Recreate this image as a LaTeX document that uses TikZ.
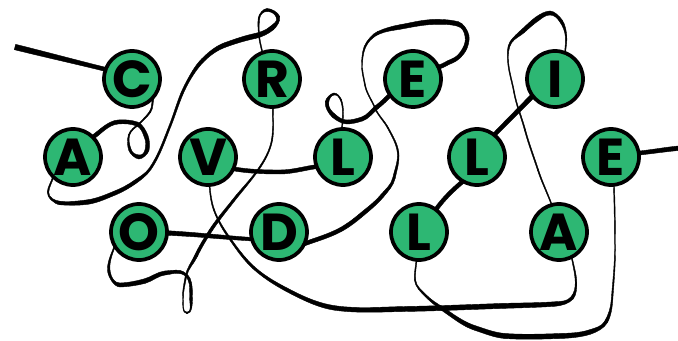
\documentclass[tikz,border=0pt]{standalone}
\usepackage{fontspec}
\setmainfont{Poppins}
\usetikzlibrary{backgrounds}
\definecolor{lettergreen}{RGB}{45,183,115}
\makeatletter
\newcommand\getpt[3]{%
  \expandafter\tikz@scan@one@point\expandafter\pgfutil@firstofone#1\relax
  \edef#2{\pgf@sys@tonumber\pgf@x}%
  \edef#3{\pgf@sys@tonumber\pgf@y}}
\makeatother
% one ribbon piece: start point, start heading, start width, end point, end heading, end width
\newcommand\ribseg[6]{%
  \getpt{#1}\rxa\rya
  \getpt{#4}\rxb\ryb
  \pgfmathsetmacro\rdd{veclen(\rxb-\rxa,\ryb-\rya)/3}%
  \pgfmathsetmacro\rta{-(#2)}%
  \pgfmathsetmacro\rtb{-(#5)}%
  \pgfmathsetmacro\rha{0.375*(#3)}%
  \pgfmathsetmacro\rhb{0.375*(#6)}%
  \pgfmathsetmacro\rcax{\rxa+\rdd*cos(\rta)}%
  \pgfmathsetmacro\rcay{\rya+\rdd*sin(\rta)}%
  \pgfmathsetmacro\rcbx{\rxb-\rdd*cos(\rtb)}%
  \pgfmathsetmacro\rcby{\ryb-\rdd*sin(\rtb)}%
  \pgfmathsetmacro\rnax{-\rha*sin(\rta)}%
  \pgfmathsetmacro\rnay{\rha*cos(\rta)}%
  \pgfmathsetmacro\rnbx{-\rhb*sin(\rtb)}%
  \pgfmathsetmacro\rnby{\rhb*cos(\rtb)}%
  \pgfmathsetmacro\Pax{\rxa+\rnax}\pgfmathsetmacro\Pay{\rya+\rnay}%
  \pgfmathsetmacro\Qax{\rxa-\rnax}\pgfmathsetmacro\Qay{\rya-\rnay}%
  \pgfmathsetmacro\Cax{\rcax+\rnax}\pgfmathsetmacro\Cay{\rcay+\rnay}%
  \pgfmathsetmacro\Dax{\rcax-\rnax}\pgfmathsetmacro\Day{\rcay-\rnay}%
  \pgfmathsetmacro\Cbx{\rcbx+\rnbx}\pgfmathsetmacro\Cby{\rcby+\rnby}%
  \pgfmathsetmacro\Dbx{\rcbx-\rnbx}\pgfmathsetmacro\Dby{\rcby-\rnby}%
  \pgfmathsetmacro\Pbx{\rxb+\rnbx}\pgfmathsetmacro\Pby{\ryb+\rnby}%
  \pgfmathsetmacro\Qbx{\rxb-\rnbx}\pgfmathsetmacro\Qby{\ryb-\rnby}%
  \filldraw[ribbonsty] (\Pax pt,\Pay pt) .. controls (\Cax pt,\Cay pt) and (\Cbx pt,\Cby pt) .. (\Pbx pt,\Pby pt)
    -- (\Qbx pt,\Qby pt) .. controls (\Dbx pt,\Dby pt) and (\Dax pt,\Day pt) .. (\Qax pt,\Qay pt) -- cycle;}
\newcommand\ribbon[1]{%
  \foreach \p/\a/\w [count=\i, remember=\p as \pp, remember=\a as \pa, remember=\w as \pw] in {#1}{%
    \ifnum\i>1 \ribseg{\pp}{\pa}{\pw}{\p}{\a}{\w}\fi}}
\tikzset{
  letter/.style={circle, draw=black, line width=2.8pt, fill=lettergreen,
    minimum size=42pt, inner sep=0pt, outer sep=0pt,
    font=\fontsize{39}{39}\selectfont\bfseries},
  ribbonsty/.style={fill=black, draw=black, line width=0.3pt, line join=round}
}
\begin{document}
\begin{tikzpicture}[x=0.75pt,y=-0.75pt]
\path[use as bounding box] (0,0) rectangle (678,341);
% letters
\node[letter] (C)  at (132,79)  {C};
\node[letter] (R)  at (272,79)  {R};
\node[letter] (E1) at (413,79)  {E};
\node[letter] (I)  at (555,79)  {I};
\node[letter] (A1) at (73,157)  {A};
\node[letter] (V)  at (208,157) {V};
\node[letter] (L1) at (343,157) {L};
\node[letter] (L2) at (477,157) {L};
\node[letter] (E2) at (611,157) {E};
\node[letter] (O)  at (139,232) {O};
\node[letter] (D)  at (279,232) {D};
\node[letter] (L3) at (419,232) {L};
\node[letter] (A2) at (559,232) {A};
\coordinate (west) at (15,47);
\coordinate (east) at (681,148);
\begin{pgfonlayer}{background}
\fill[white] (0,0) rectangle (678,341);
% edge -> C
\ribbon{{(west)}/14/5.5, {(C.160)}/14/4}
% C -> A
\ribbon{{(C.-40)}/106/1.5, {(150,112)}/125/1.5, {(140,123)}/135/1.3, {(129,135)}/105/1.3,
  {(130,150)}/70/2.5, {(139,157)}/5/4, {(147,150)}/-75/4, {(146,136)}/-112/4,
  {(137,124)}/-160/4, {(118,122)}/175/4, {(A1.45)}/145/4}
% A -> R
\ribbon{{(A1.225)}/105/1.2, {(48,192)}/95/1.5, {(60,203)}/5/3.5, {(88,202)}/-8/4.5,
  {(115,193)}/-22/4, {(135,182)}/-35/3.5, {(150,169)}/-55/2.2, {(170,126)}/-68/2,
  {(186,85)}/-62/2.5, {(203,60)}/-45/3.5, {(225,45)}/-20/4.5, {(255,36)}/-12/5,
  {(272,28)}/-40/4.5, {(278,17)}/-110/3.5, {(267,10)}/180/3, {(259,18)}/98/1.5,
  {(259,35)}/86/1, {(R.110)}/78/1}
% R -> O
\ribbon{{(R.-88)}/92/1, {(272,140)}/100/1.2, {(258,170)}/125/1.5, {(233,201)}/128/2.5,
  {(211,230)}/123/3, {(196,256)}/115/3, {(186,276)}/100/1.5, {(183,298)}/88/1,
  {(187,313)}/0/1.5, {(191,298)}/-92/3, {(189,279)}/-115/2.5, {(180,272)}/-170/3,
  {(165,273)}/175/4, {(145,281)}/165/4.5, {(120,285)}/178/4, {(109,272)}/-100/2.5,
  {(O.210)}/-70/1.2}
% O -> D
\ribbon{{(O.-2)}/3/4.5, {(210,236)}/5/4, {(D.195)}/4/3.5}
% D -> E
\ribbon{{(D.-25)}/-20/4, {(340,230)}/-28/4, {(360,216)}/-40/4, {(382,196)}/-50/3.5,
  {(394,178)}/-78/2.5, {(398,152)}/-98/1.5, {(388,128)}/-118/1.2, {(375,108)}/-112/1,
  {(365,85)}/-100/1, {(362,62)}/-85/1, {(367,43)}/-55/1.8, {(378,33)}/-25/3,
  {(400,27)}/-10/4.5, {(433,22)}/-2/5, {(458,24)}/15/4.5, {(467,36)}/80/4,
  {(464,50)}/120/4, {(452,61)}/160/4, {(E1.25)}/165/4}
% E -> L
\ribbon{{(E1.215)}/135/4, {(377,107)}/142/4, {(362,119)}/162/4, {(347,122)}/180/4,
  {(334,116)}/-140/4, {(327,102)}/-80/3.5, {(334,94)}/-10/2, {(341,100)}/70/1.2,
  {(343,113)}/90/1, {(L1.92)}/92/1}
% L -> V
\ribbon{{(L1.200)}/172/4, {(280,172)}/180/4, {(V.-25)}/190/4}
% V -> A
\ribbon{{(V.-87)}/85/1, {(214,210)}/70/1.2, {(228,236)}/55/1.8, {(254,268)}/42/2.5,
  {(293,293)}/27/3.5, {(335,308)}/8/4.5, {(405,309)}/-1/5, {(500,306)}/-2/5,
  {(555,304)}/-4/4.5, {(572,298)}/-50/3, {(576,282)}/-92/1.5, {(A2.-63)}/-100/1}
% A -> I
\ribbon{{(A2.105)}/-110/1, {(538,170)}/-108/1.2, {(525,130)}/-105/1.2, {(514,92)}/-100/1,
  {(508,60)}/-92/1, {(511,42)}/-55/2, {(523,31)}/-42/4, {(537,19)}/-35/4.5,
  {(550,13)}/0/4, {(561,21)}/55/3, {(566,36)}/85/1.5, {(I.69)}/95/1}
% I -> L
\ribbon{{(I.217)}/134/4.5, {(L2.52)}/134/4}
% L -> L
\ribbon{{(L2.240)}/140/4, {(L3.53)}/125/4}
% L -> E
\ribbon{{(L3.-95)}/95/1, {(415,280)}/85/1.2, {(426,296)}/45/2, {(447,312)}/35/3.5,
  {(475,328)}/18/4.5, {(505,336)}/4/5, {(560,336)}/-2/5, {(590,332)}/-18/4.5,
  {(606,322)}/-60/3, {(612,300)}/-86/1.5, {(615,250)}/-90/1, {(E2.-84)}/-92/1}
% E -> edge
\ribbon{{(E2.8)}/-6/4, {(east)}/-5/4.5}
\end{pgfonlayer}
\end{tikzpicture}
\end{document}
